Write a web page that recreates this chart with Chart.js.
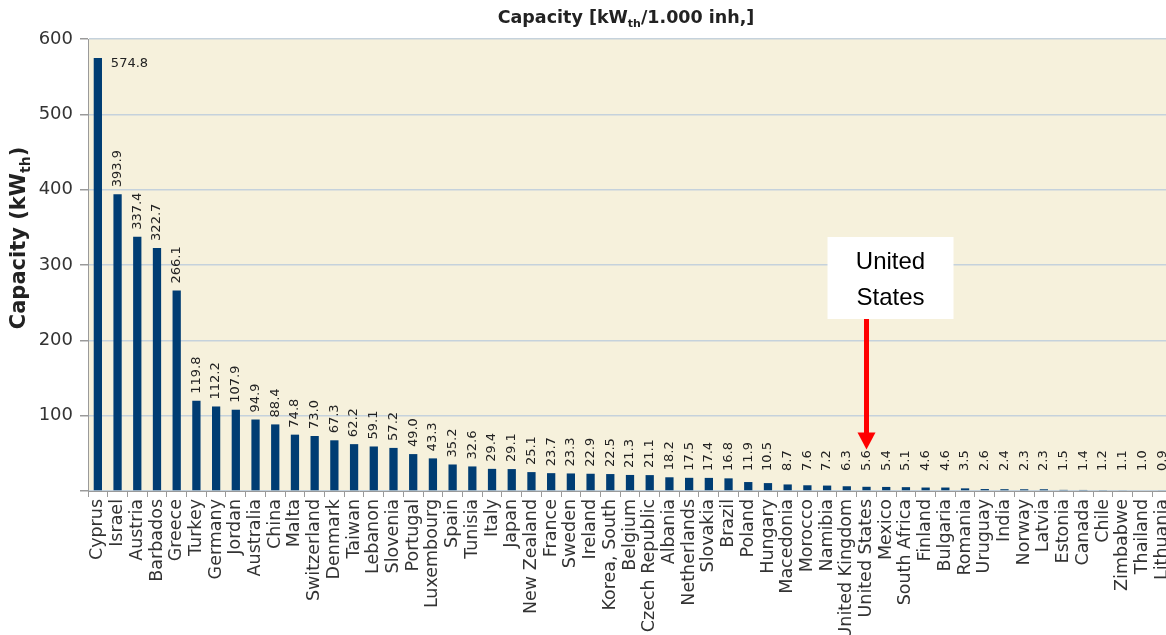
<!DOCTYPE html>
<html>
<head>
<meta charset="utf-8">
<script src="https://cdn.jsdelivr.net/npm/chart.js@4"></script>
<style>
  html, body { margin: 0; padding: 0; background: #fff; overflow: hidden; }
  #wrap { width: 1172px; height: 635px; }
</style>
</head>
<body>
<div id="wrap"><canvas id="cap" width="1172" height="635"></canvas></div>
<script>
// capacity per 1000 inhabitants, sorted high -> low
const countries = ['Cyprus', 'Israel', 'Austria', 'Barbados', 'Greece', 'Turkey', 'Germany', 'Jordan',
  'Australia', 'China', 'Malta', 'Switzerland', 'Denmark', 'Taiwan', 'Lebanon', 'Slovenia', 'Portugal',
  'Luxembourg', 'Spain', 'Tunisia', 'Italy', 'Japan', 'New Zealand', 'France', 'Sweden', 'Ireland',
  'Korea, South', 'Belgium', 'Czech Republic', 'Albania', 'Netherlands', 'Slovakia', 'Brazil', 'Poland',
  'Hungary', 'Macedonia', 'Morocco', 'Namibia', 'United Kingdom', 'United States', 'Mexico',
  'South Africa', 'Finland', 'Bulgaria', 'Romania', 'Uruguay', 'India', 'Norway', 'Latvia', 'Estonia',
  'Canada', 'Chile', 'Zimbabwe', 'Thailand', 'Lithuania'];
const capacity = [574.8, 393.9, 337.4, 322.7, 266.1, 119.8, 112.2, 107.9, 94.9, 88.4, 74.8, 73.0, 67.3,
  62.2, 59.1, 57.2, 49.0, 43.3, 35.2, 32.6, 29.4, 29.1, 25.1, 23.7, 23.3, 22.9, 22.5, 21.3, 21.1, 18.2,
  17.5, 17.4, 16.8, 11.9, 10.5, 8.7, 7.6, 7.2, 6.3, 5.6, 5.4, 5.1, 4.6, 4.6, 3.5, 2.6, 2.4, 2.3, 2.3,
  1.5, 1.4, 1.2, 1.1, 1.0, 0.9];
const yTicks = [0, 100, 200, 300, 400, 500, 600];
const highlight = 'United States';

const FONT = "'DejaVu Sans', Verdana, sans-serif";

// text with a "th" style subscript, drawn piecewise
function drawSubText(ctx, parts, size, x, y, align) {
  let total = 0;
  parts.forEach(p => {
    ctx.font = 'bold ' + (p.sub ? Math.round(size * 0.65) : size) + 'px ' + FONT;
    total += ctx.measureText(p.t).width;
  });
  let cx = align === 'center' ? x - total / 2 : x;
  parts.forEach(p => {
    ctx.font = 'bold ' + (p.sub ? Math.round(size * 0.65) : size) + 'px ' + FONT;
    ctx.fillText(p.t, cx, p.sub ? y + size * 0.25 : y);
    cx += ctx.measureText(p.t).width;
  });
}

const decor = {
  id: 'decor',
  beforeDraw(chart) {
    const { ctx, chartArea: a } = chart;
    ctx.save();
    ctx.fillStyle = '#f6f1dc';
    ctx.fillRect(a.left, a.top, a.right - a.left, a.bottom - a.top);
    ctx.restore();
  },
  afterDatasetsDraw(chart) {
    const { ctx, chartArea: a } = chart;
    const meta = chart.getDatasetMeta(0);
    ctx.save();
    ctx.fillStyle = '#222';
    ctx.font = '13px ' + FONT;
    meta.data.forEach((bar, i) => {
      const txt = capacity[i].toFixed(1);
      const w = ctx.measureText(txt).width;
      if (bar.y - 7 - w < a.top) {
        // no room above -> horizontal, beside the bar
        ctx.textAlign = 'left';
        ctx.textBaseline = 'middle';
        ctx.fillText(txt, bar.x + 13, bar.y + 6);
      } else {
        const yb = Math.min(bar.y - 7, 471);
        ctx.save();
        ctx.translate(bar.x, yb);
        ctx.rotate(-Math.PI / 2);
        ctx.textAlign = 'left';
        ctx.textBaseline = 'middle';
        ctx.fillText(txt, 0, 0);
        ctx.restore();
      }
    });
    ctx.restore();
  },
  afterDraw(chart) {
    const { ctx } = chart;
    const xs = chart.scales.x, ys = chart.scales.y;
    ctx.save();
    ctx.fillStyle = '#222';
    ctx.textBaseline = 'alphabetic';
    // title
    drawSubText(ctx, [{ t: 'Capacity [kW' }, { t: 'th', sub: true }, { t: '/1.000 inh,]' }], 17.5, 626, 23, 'center');
    // y axis title
    ctx.save();
    ctx.translate(25, 238);
    ctx.rotate(-Math.PI / 2);
    drawSubText(ctx, [{ t: 'Capacity (kW' }, { t: 'th', sub: true }, { t: ')' }], 21, 0, 0, 'center');
    ctx.restore();

    // annotation for the highlighted country
    const ax = xs.getPixelForValue(countries.indexOf(highlight));
    const boxL = ax - 39, boxR = ax + 87, boxT = 237, boxB = 319;
    ctx.fillStyle = '#fff';
    ctx.fillRect(boxL, boxT, boxR - boxL, boxB - boxT);
    ctx.fillStyle = '#000';
    ctx.font = '24px "Liberation Sans", Arial, sans-serif';
    ctx.textAlign = 'center';
    ctx.textBaseline = 'middle';
    ctx.fillText('United', (boxL + boxR) / 2, 262);
    ctx.fillText('States', (boxL + boxR) / 2, 298);

    const tipY = ys.getPixelForValue(55);
    ctx.fillStyle = '#ff0000';
    ctx.fillRect(ax - 2.5, boxB, 5, tipY - 16 - boxB);
    ctx.beginPath();
    ctx.moveTo(ax - 9, tipY - 17);
    ctx.lineTo(ax + 9, tipY - 17);
    ctx.lineTo(ax, tipY);
    ctx.closePath();
    ctx.fill();
    ctx.restore();
  }
};

new Chart(document.getElementById('cap'), {
  type: 'bar',
  data: {
    labels: countries,
    datasets: [{
      data: capacity,
      backgroundColor: '#003d73',
      barPercentage: 0.42,
      categoryPercentage: 1
    }]
  },
  options: {
    responsive: false,
    animation: false,
    devicePixelRatio: 1,
    layout: { padding: { top: 39, right: 0, left: 0, bottom: 0 } },
    plugins: { legend: { display: false }, tooltip: { enabled: false } },
    scales: {
      x: {
        grid: { display: true, drawOnChartArea: false, tickLength: 6, tickColor: '#9a9a9a', offset: true },
        border: { color: '#9a9a9a' },
        ticks: {
          autoSkip: false, minRotation: 90, maxRotation: 90, padding: 2,
          color: '#333', font: { family: FONT, size: 17.5 }
        },
        afterFit(s) {
          s.height = 144;
          s.paddingLeft = 0;
          s.paddingRight = 0;
        }
      },
      y: {
        min: 0, max: 600,
        afterBuildTicks(s) { s.ticks = yTicks.map(v => ({ value: v })); },
        grid: { color: '#c5d2dc', lineWidth: 1.5, tickLength: 8, tickColor: '#9a9a9a' },
        border: { color: '#9a9a9a' },
        ticks: {
          padding: 7, color: '#333', font: { family: FONT, size: 18 },
          callback: v => (v === 0 ? '' : v)
        },
        afterFit(s) { s.width = 88; s.paddingTop = 0; s.paddingBottom = 0; }
      }
    }
  },
  plugins: [decor]
});
</script>
</body>
</html>
